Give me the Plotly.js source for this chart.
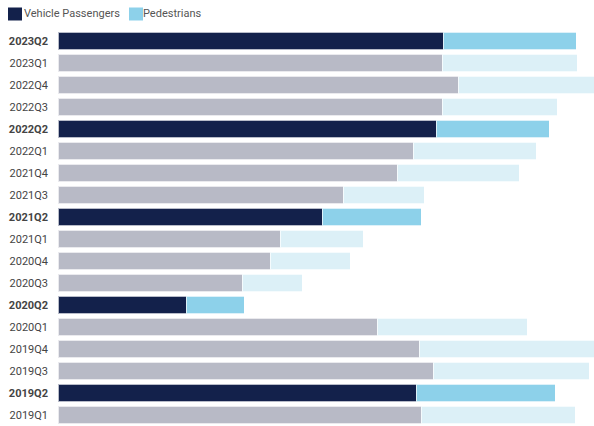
<!DOCTYPE html>
<html>
<head>
<meta charset="utf-8">
<script src="https://cdn.plot.ly/plotly-3.0.1.min.js"></script>
<style>html,body{margin:0;padding:0;background:#fff;}#chart{width:594px;height:426px;}</style>
</head>
<body>
<div id="chart"></div>
<script>
const quarters = ["2023Q2","2023Q1","2022Q4","2022Q3","2022Q2","2022Q1","2021Q4","2021Q3","2021Q2","2021Q1","2020Q4","2020Q3","2020Q2","2020Q1","2019Q4","2019Q3","2019Q2","2019Q1"];
const vehiclePassengers = [385,384,400,384,378,355,339,285,264,222,212,184,128,319,361,375,358,363];
const pedestrians = [133,135,136,115,113,123,122,81,99,83,80,60,58,150,175,156,139,154];
const seriesNames = ["Vehicle Passengers", "Pedestrians"];

const isQ2 = quarters.map(q => q.endsWith("Q2"));
const vehColors = isQ2.map(h => h ? "#13214b" : "#b8bac6");
const pedColors = isQ2.map(h => h ? "#8dd1ea" : "#dcf0f7");
const tickText = quarters.map((q, i) => isQ2[i] ? "<b>" + q + "</b>" : q);

const data = [
  {type: "bar", orientation: "h", name: seriesNames[0], y: quarters, x: vehiclePassengers,
   marker: {color: vehColors, line: {width: 1, color: "rgba(255,255,255,0.7)"}}, hoverinfo: "skip", showlegend: false},
  {type: "bar", orientation: "h", name: seriesNames[1], y: quarters, x: pedestrians,
   marker: {color: pedColors, line: {width: 1, color: "rgba(255,255,255,0.7)"}}, hoverinfo: "skip", showlegend: false}
];

// custom legend (pixel -> paper conversion)
const W = 594, H = 426, ML = 58, MR = 0, MT = 30, MB = 0;
const pw = W - ML - MR, ph = H - MT - MB;
const px = x => (x - ML) / pw;
const py = y => (H - MB - y) / ph;
const legendItems = [
  {name: seriesNames[0], color: "#13214b", sx: 8, tx: 24},
  {name: seriesNames[1], color: "#8dd1ea", sx: 129, tx: 143}
];
const shapes = legendItems.map(it => ({
  type: "rect", xref: "paper", yref: "paper",
  x0: px(it.sx), x1: px(it.sx + 14), y0: py(20.5), y1: py(7.5),
  fillcolor: it.color, line: {width: 0}
}));
const annotations = legendItems.map(it => ({
  xref: "paper", yref: "paper", x: px(it.tx), y: py(14), xanchor: "left", yanchor: "middle",
  text: it.name, showarrow: false, borderpad: 0, borderwidth: 0,
  font: {family: "Roboto, sans-serif", size: 11, color: "#555"}
}));

const layout = {
  width: W, height: H,
  margin: {l: ML, r: MR, t: MT, b: MB, pad: 0},
  barmode: "stack",
  bargap: 0.2,
  paper_bgcolor: "#fff", plot_bgcolor: "#fff",
  font: {family: "Roboto, sans-serif", size: 11, color: "#444"},
  showlegend: false,
  shapes: shapes,
  annotations: annotations,
  xaxis: {range: [0, 536], visible: false, fixedrange: true},
  yaxis: {type: "category", autorange: "reversed", tickvals: quarters, ticktext: tickText,
          ticks: "", showgrid: false, zeroline: false, showline: false,
          tickfont: {size: 11, color: "#444"}, ticklabelstandoff: 9}
};

Plotly.newPlot("chart", data, layout, {displayModeBar: false, staticPlot: true});
</script>
</body>
</html>
